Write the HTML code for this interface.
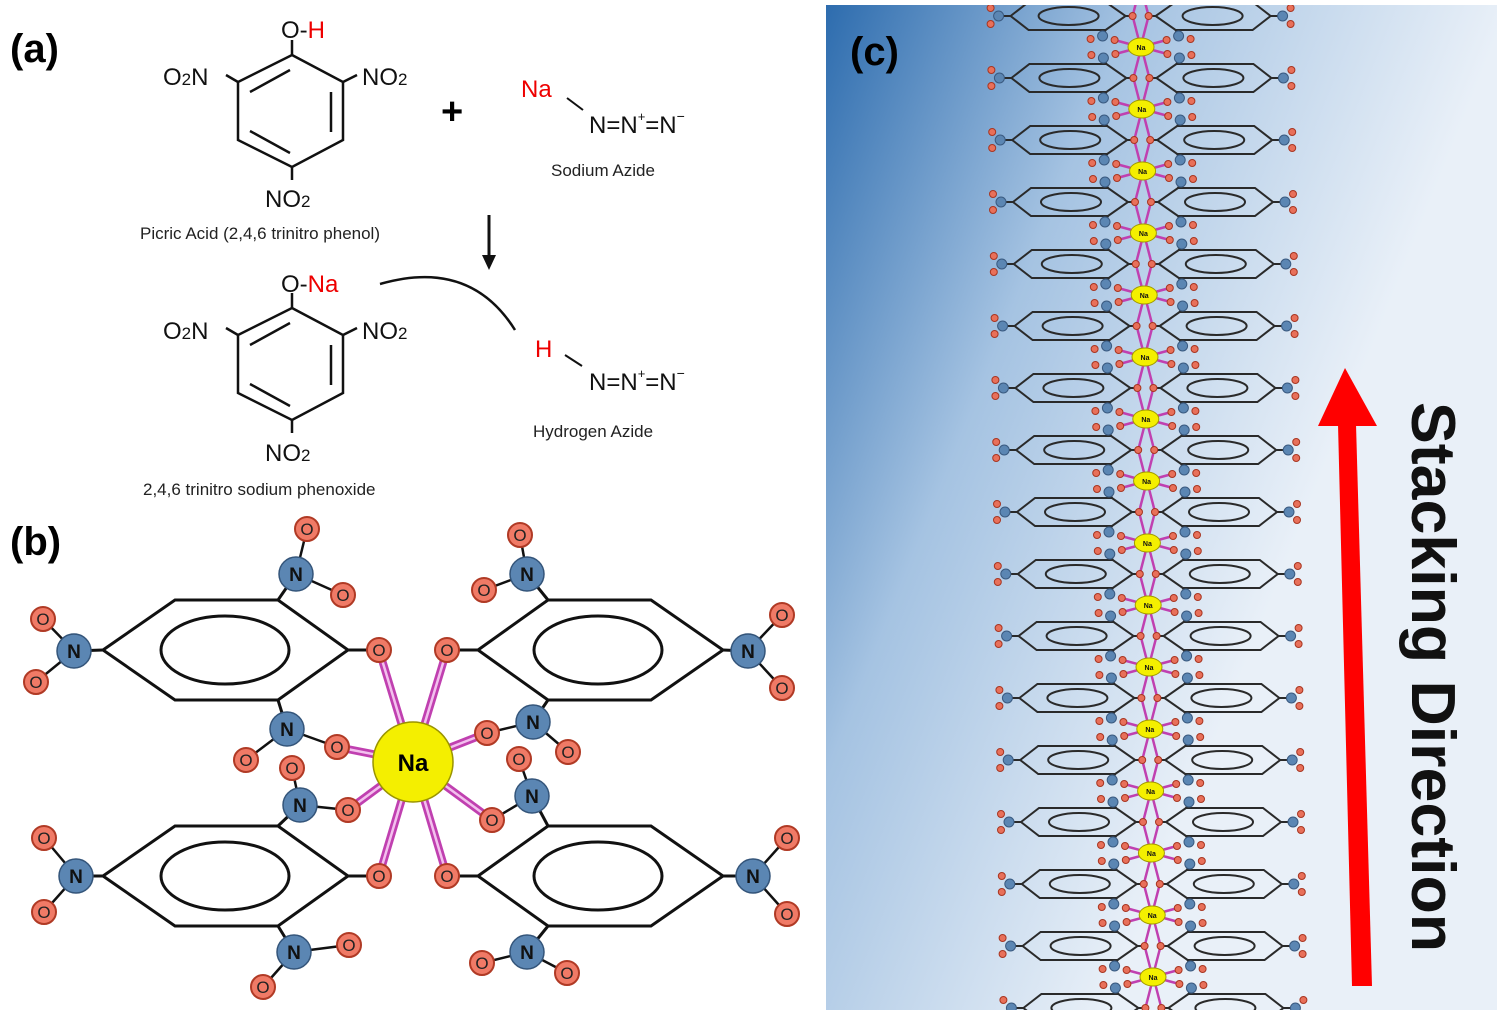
<!DOCTYPE html>
<html><head><meta charset="utf-8"><style>
html,body{margin:0;padding:0;background:#fff;}
svg{display:block;font-family:"Liberation Sans",sans-serif;}
</style></head><body>
<svg width="1500" height="1018" viewBox="0 0 1500 1018" xmlns="http://www.w3.org/2000/svg">
<defs>
<linearGradient id="bg" x1="0" y1="0" x2="0.75" y2="0.45">
<stop offset="0" stop-color="#2d6cae"/><stop offset="0.45" stop-color="#a5c3e2"/><stop offset="1" stop-color="#e9f0f8"/>
</linearGradient>
<clipPath id="cc"><rect x="826" y="5" width="671" height="1005"/></clipPath>
<g id="row">
<g stroke="#c040b0" stroke-width="2.5">
<line x1="-8" y1="0" x2="0" y2="31"/><line x1="8" y1="0" x2="0" y2="31"/>
<line x1="-8" y1="0" x2="0" y2="-31"/><line x1="8" y1="0" x2="0" y2="-31"/>
<line x1="-26" y1="24" x2="0" y2="31"/><line x1="26" y1="24" x2="0" y2="31"/>
<line x1="-26" y1="-24" x2="0" y2="-31"/><line x1="26" y1="-24" x2="0" y2="-31"/>
</g>
<g fill="none" stroke="#2a2a2a" stroke-width="2">
<polygon points="-130,0 -112,-14 -35,-14 -15,0 -35,14 -112,14"/>
<polygon points="130,0 112,-14 35,-14 15,0 35,14 112,14"/>
<ellipse cx="-72" cy="0" rx="30" ry="9"/><ellipse cx="72" cy="0" rx="30" ry="9"/>
<line x1="-130" y1="0" x2="-142" y2="0"/><line x1="130" y1="0" x2="142" y2="0"/>
<line x1="-15" y1="0" x2="-8" y2="0"/><line x1="15" y1="0" x2="8" y2="0"/>
<line x1="-35" y1="14" x2="-38" y2="20"/><line x1="35" y1="14" x2="38" y2="20"/>
<line x1="-35" y1="-14" x2="-38" y2="-20"/><line x1="35" y1="-14" x2="38" y2="-20"/>
</g>
<g fill="#5b86b3" stroke="#3a5a80" stroke-width="1">
<circle cx="-142" cy="0" r="5"/><circle cx="142" cy="0" r="5"/>
<circle cx="-38" cy="20" r="5"/><circle cx="38" cy="20" r="5"/>
<circle cx="-38" cy="-20" r="5"/><circle cx="38" cy="-20" r="5"/>
</g>
<g fill="#e8705a" stroke="#a83520" stroke-width="1">
<circle cx="-8" cy="0" r="3.5"/><circle cx="8" cy="0" r="3.5"/>
<circle cx="-150" cy="-8" r="3.5"/><circle cx="-150" cy="8" r="3.5"/>
<circle cx="150" cy="-8" r="3.5"/><circle cx="150" cy="8" r="3.5"/>
<circle cx="-26" cy="24" r="3.5"/><circle cx="-50" cy="23" r="3.5"/>
<circle cx="26" cy="24" r="3.5"/><circle cx="50" cy="23" r="3.5"/>
<circle cx="-26" cy="-24" r="3.5"/><circle cx="-50" cy="-23" r="3.5"/>
<circle cx="26" cy="-24" r="3.5"/><circle cx="50" cy="-23" r="3.5"/>
</g>
</g>
</defs>

<!-- Panel labels -->
<text x="10" y="62" font-size="40" font-weight="bold">(a)</text>
<text x="10" y="555" font-size="40" font-weight="bold">(b)</text>

<!-- Panel a: picric acid -->
<g fill="none" stroke="#111" stroke-width="2.5">
<polygon points="292,55 343,82 343,140 292,167 238,140 238,82"/>
<line x1="250" y1="92" x2="290" y2="70"/><line x1="331" y1="92" x2="331" y2="132"/><line x1="250" y1="131" x2="290" y2="153"/>
<line x1="292" y1="55" x2="292" y2="40"/><line x1="238" y1="82" x2="226" y2="75"/><line x1="343" y1="82" x2="357" y2="75"/><line x1="292" y1="167" x2="292" y2="180"/>
</g>
<g font-size="24" fill="#111">
<text x="281" y="38">O-<tspan fill="#e00">H</tspan></text>
<text x="163" y="85">O<tspan font-size="17">2</tspan>N</text>
<text x="362" y="85">NO<tspan font-size="17">2</tspan></text>
<text x="265" y="207">NO<tspan font-size="17">2</tspan></text>
</g>
<text x="140" y="239" font-size="17" fill="#222">Picric Acid (2,4,6 trinitro phenol)</text>
<text x="441" y="124" font-size="38" font-weight="bold">+</text>
<text x="521" y="97" font-size="24" fill="#e00">Na</text>
<line x1="567" y1="98" x2="583" y2="110" stroke="#111" stroke-width="2"/>
<text x="589" y="133" font-size="24" fill="#111">N=N<tspan font-size="13" dy="-12">+</tspan><tspan dy="12">=N</tspan><tspan font-size="14" dy="-12">−</tspan></text>
<text x="551" y="176" font-size="17" fill="#222">Sodium Azide</text>
<line x1="489" y1="215" x2="489" y2="258" stroke="#111" stroke-width="3"/>
<polygon points="482,255 496,255 489,270" fill="#111"/>

<!-- phenoxide -->
<g transform="translate(0,253)" fill="none" stroke="#111" stroke-width="2.5">
<polygon points="292,55 343,82 343,140 292,167 238,140 238,82"/>
<line x1="250" y1="92" x2="290" y2="70"/><line x1="331" y1="92" x2="331" y2="132"/><line x1="250" y1="131" x2="290" y2="153"/>
<line x1="292" y1="55" x2="292" y2="40"/><line x1="238" y1="82" x2="226" y2="75"/><line x1="343" y1="82" x2="357" y2="75"/><line x1="292" y1="167" x2="292" y2="180"/>
</g>
<g font-size="24" fill="#111">
<text x="281" y="292">O-<tspan fill="#e00">Na</tspan></text>
<text x="163" y="339">O<tspan font-size="17">2</tspan>N</text>
<text x="362" y="339">NO<tspan font-size="17">2</tspan></text>
<text x="265" y="461">NO<tspan font-size="17">2</tspan></text>
</g>
<text x="143" y="495" font-size="17" fill="#222">2,4,6 trinitro sodium phenoxide</text>
<path d="M380,284 Q470,258 515,330" fill="none" stroke="#111" stroke-width="2.5"/>
<text x="535" y="357" font-size="24" fill="#e00">H</text>
<line x1="565" y1="355" x2="582" y2="366" stroke="#111" stroke-width="2"/>
<text x="589" y="390" font-size="24" fill="#111">N=N<tspan font-size="13" dy="-12">+</tspan><tspan dy="12">=N</tspan><tspan font-size="14" dy="-12">−</tspan></text>
<text x="533" y="437" font-size="17" fill="#222">Hydrogen Azide</text>

<!-- Panel b -->
<g stroke="#c040b0" stroke-width="8" stroke-linecap="round">
<line x1="413" y1="762" x2="379" y2="650"/><line x1="413" y1="762" x2="447" y2="650"/>
<line x1="413" y1="762" x2="379" y2="876"/><line x1="413" y1="762" x2="447" y2="876"/>
<line x1="413" y1="762" x2="337" y2="747"/><line x1="413" y1="762" x2="487" y2="733"/>
<line x1="413" y1="762" x2="348" y2="810"/><line x1="413" y1="762" x2="492" y2="820"/>
</g>
<g stroke="#f3c0ee" stroke-width="2.5">
<line x1="413" y1="762" x2="379" y2="650"/><line x1="413" y1="762" x2="447" y2="650"/>
<line x1="413" y1="762" x2="379" y2="876"/><line x1="413" y1="762" x2="447" y2="876"/>
<line x1="413" y1="762" x2="337" y2="747"/><line x1="413" y1="762" x2="487" y2="733"/>
<line x1="413" y1="762" x2="348" y2="810"/><line x1="413" y1="762" x2="492" y2="820"/>
</g>
<g fill="none" stroke="#111" stroke-width="3">
<polygon points="103,650 175,600 278,600 348,650 278,700 175,700"/>
<polygon points="478,650 548,600 651,600 723,650 651,700 548,700"/>
<polygon points="103,876 175,826 278,826 348,876 278,926 175,926"/>
<polygon points="478,876 548,826 651,826 723,876 651,926 548,926"/>
<ellipse cx="225" cy="650" rx="64" ry="34"/><ellipse cx="598" cy="650" rx="64" ry="34"/>
<ellipse cx="225" cy="876" rx="64" ry="34"/><ellipse cx="598" cy="876" rx="64" ry="34"/>
<line x1="348" y1="650" x2="379" y2="650"/><line x1="478" y1="650" x2="447" y2="650"/>
<line x1="348" y1="876" x2="379" y2="876"/><line x1="478" y1="876" x2="447" y2="876"/>
<line x1="296" y1="574" x2="278" y2="600"/><line x1="527" y1="574" x2="548" y2="600"/>
<line x1="74" y1="651" x2="103" y2="650"/><line x1="748" y1="651" x2="723" y2="650"/>
<line x1="287" y1="729" x2="278" y2="700"/><line x1="533" y1="722" x2="548" y2="700"/>
<line x1="300" y1="805" x2="278" y2="826"/><line x1="532" y1="796" x2="548" y2="826"/>
<line x1="76" y1="876" x2="103" y2="876"/><line x1="753" y1="876" x2="723" y2="876"/>
<line x1="294" y1="952" x2="278" y2="926"/><line x1="527" y1="952" x2="548" y2="926"/>
</g>
<g stroke="#111" stroke-width="2.5">
<line x1="296" y1="574" x2="307" y2="529"/><line x1="296" y1="574" x2="343" y2="595"/>
<line x1="527" y1="574" x2="520" y2="535"/><line x1="527" y1="574" x2="484" y2="590"/>
<line x1="74" y1="651" x2="43" y2="619"/><line x1="74" y1="651" x2="36" y2="682"/>
<line x1="748" y1="651" x2="782" y2="615"/><line x1="748" y1="651" x2="782" y2="688"/>
<line x1="287" y1="729" x2="246" y2="760"/><line x1="287" y1="729" x2="337" y2="747"/>
<line x1="533" y1="722" x2="487" y2="733"/><line x1="533" y1="722" x2="568" y2="752"/>
<line x1="300" y1="805" x2="292" y2="768"/><line x1="300" y1="805" x2="348" y2="810"/>
<line x1="532" y1="796" x2="519" y2="759"/><line x1="532" y1="796" x2="492" y2="820"/>
<line x1="76" y1="876" x2="44" y2="838"/><line x1="76" y1="876" x2="44" y2="912"/>
<line x1="753" y1="876" x2="787" y2="838"/><line x1="753" y1="876" x2="787" y2="914"/>
<line x1="294" y1="952" x2="349" y2="945"/><line x1="294" y1="952" x2="263" y2="987"/>
<line x1="527" y1="952" x2="482" y2="963"/><line x1="527" y1="952" x2="567" y2="973"/>
</g>
<circle cx="413" cy="762" r="40" fill="#f4ef00" stroke="#9a9400" stroke-width="1.5"/>
<text x="413" y="771" font-size="24" font-weight="bold" text-anchor="middle">Na</text>
<g fill="#5b86b3" stroke="#34557a" stroke-width="1.5">
<circle cx="296" cy="574" r="17"/><circle cx="527" cy="574" r="17"/><circle cx="287" cy="729" r="17"/><circle cx="533" cy="722" r="17"/>
<circle cx="300" cy="805" r="17"/><circle cx="532" cy="796" r="17"/><circle cx="294" cy="952" r="17"/><circle cx="527" cy="952" r="17"/>
<circle cx="74" cy="651" r="17"/><circle cx="748" cy="651" r="17"/><circle cx="76" cy="876" r="17"/><circle cx="753" cy="876" r="17"/>
</g>
<g font-size="19" font-weight="bold" fill="#111" text-anchor="middle">
<text x="296" y="581">N</text><text x="527" y="581">N</text><text x="287" y="736">N</text><text x="533" y="729">N</text>
<text x="300" y="812">N</text><text x="532" y="803">N</text><text x="294" y="959">N</text><text x="527" y="959">N</text>
<text x="74" y="658">N</text><text x="748" y="658">N</text><text x="76" y="883">N</text><text x="753" y="883">N</text>
</g>
<g fill="#f07a66" stroke="#b03a25" stroke-width="2">
<circle cx="379" cy="650" r="12"/><circle cx="447" cy="650" r="12"/><circle cx="379" cy="876" r="12"/><circle cx="447" cy="876" r="12"/>
<circle cx="337" cy="747" r="12"/><circle cx="487" cy="733" r="12"/><circle cx="348" cy="810" r="12"/><circle cx="492" cy="820" r="12"/>
<circle cx="307" cy="529" r="12"/><circle cx="343" cy="595" r="12"/><circle cx="520" cy="535" r="12"/><circle cx="484" cy="590" r="12"/>
<circle cx="43" cy="619" r="12"/><circle cx="36" cy="682" r="12"/><circle cx="782" cy="615" r="12"/><circle cx="782" cy="688" r="12"/>
<circle cx="246" cy="760" r="12"/><circle cx="568" cy="752" r="12"/><circle cx="292" cy="768" r="12"/><circle cx="519" cy="759" r="12"/>
<circle cx="44" cy="838" r="12"/><circle cx="44" cy="912" r="12"/><circle cx="787" cy="838" r="12"/><circle cx="787" cy="914" r="12"/>
<circle cx="349" cy="945" r="12"/><circle cx="263" cy="987" r="12"/><circle cx="482" cy="963" r="12"/><circle cx="567" cy="973" r="12"/>
</g>
<g font-size="17" fill="#222" text-anchor="middle">
<text x="379" y="656">O</text><text x="447" y="656">O</text><text x="379" y="882">O</text><text x="447" y="882">O</text>
<text x="337" y="753">O</text><text x="487" y="739">O</text><text x="348" y="816">O</text><text x="492" y="826">O</text>
<text x="307" y="535">O</text><text x="343" y="601">O</text><text x="520" y="541">O</text><text x="484" y="596">O</text>
<text x="43" y="625">O</text><text x="36" y="688">O</text><text x="782" y="621">O</text><text x="782" y="694">O</text>
<text x="246" y="766">O</text><text x="568" y="758">O</text><text x="292" y="774">O</text><text x="519" y="765">O</text>
<text x="44" y="844">O</text><text x="44" y="918">O</text><text x="787" y="844">O</text><text x="787" y="920">O</text>
<text x="349" y="951">O</text><text x="263" y="993">O</text><text x="482" y="969">O</text><text x="567" y="979">O</text>
</g>

<!-- Panel c -->
<rect x="826" y="5" width="671" height="1005" fill="url(#bg)"/>
<g clip-path="url(#cc)">
<use href="#row" x="1140.6" y="16"/><use href="#row" x="1141.4" y="78"/><use href="#row" x="1142.2" y="140"/>
<use href="#row" x="1143" y="202"/><use href="#row" x="1143.8" y="264"/><use href="#row" x="1144.6" y="326"/>
<use href="#row" x="1145.4" y="388"/><use href="#row" x="1146.2" y="450"/><use href="#row" x="1147" y="512"/>
<use href="#row" x="1147.8" y="574"/><use href="#row" x="1148.6" y="636"/><use href="#row" x="1149.4" y="698"/>
<use href="#row" x="1150.2" y="760"/><use href="#row" x="1151" y="822"/><use href="#row" x="1151.8" y="884"/>
<use href="#row" x="1152.6" y="946"/><use href="#row" x="1153.4" y="1008"/>
<g fill="#f4ef00" stroke="#a09a00" stroke-width="1">
<ellipse cx="1141" cy="47" rx="13" ry="9"/><ellipse cx="1141.8" cy="109" rx="13" ry="9"/><ellipse cx="1142.6" cy="171" rx="13" ry="9"/>
<ellipse cx="1143.4" cy="233" rx="13" ry="9"/><ellipse cx="1144.2" cy="295" rx="13" ry="9"/><ellipse cx="1145" cy="357" rx="13" ry="9"/>
<ellipse cx="1145.8" cy="419" rx="13" ry="9"/><ellipse cx="1146.6" cy="481" rx="13" ry="9"/><ellipse cx="1147.4" cy="543" rx="13" ry="9"/>
<ellipse cx="1148.2" cy="605" rx="13" ry="9"/><ellipse cx="1149" cy="667" rx="13" ry="9"/><ellipse cx="1149.8" cy="729" rx="13" ry="9"/>
<ellipse cx="1150.6" cy="791" rx="13" ry="9"/><ellipse cx="1151.4" cy="853" rx="13" ry="9"/><ellipse cx="1152.2" cy="915" rx="13" ry="9"/>
<ellipse cx="1153" cy="977" rx="13" ry="9"/>
</g>
<g font-size="7" font-weight="bold" text-anchor="middle" fill="#111">
<text x="1141" y="50">Na</text><text x="1141.8" y="112">Na</text><text x="1142.6" y="174">Na</text><text x="1143.4" y="236">Na</text>
<text x="1144.2" y="298">Na</text><text x="1145" y="360">Na</text><text x="1145.8" y="422">Na</text><text x="1146.6" y="484">Na</text>
<text x="1147.4" y="546">Na</text><text x="1148.2" y="608">Na</text><text x="1149" y="670">Na</text><text x="1149.8" y="732">Na</text>
<text x="1150.6" y="794">Na</text><text x="1151.4" y="856">Na</text><text x="1152.2" y="918">Na</text><text x="1153" y="980">Na</text>
</g>
</g>
<text x="850" y="65" font-size="40" font-weight="bold">(c)</text>
<polygon points="1338,424 1356,424 1372,986 1352,986" fill="#ff0000"/>
<polygon points="1318,426 1345,368 1377,426" fill="#ff0000"/>
<text transform="translate(1412,402) rotate(90)" font-size="62" font-weight="bold" fill="#111" textLength="550" lengthAdjust="spacingAndGlyphs">Stacking Direction</text>
</svg>
</body></html>
